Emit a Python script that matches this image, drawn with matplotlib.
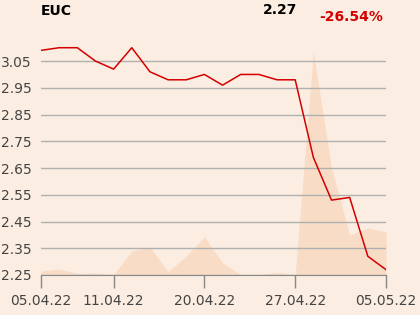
import matplotlib
matplotlib.use("Agg")
import matplotlib.pyplot as plt
import numpy as np

# trading days 05.04.22 .. 05.05.22
dates = ["05.04.22", "06.04.22", "07.04.22", "08.04.22", "11.04.22",
         "12.04.22", "13.04.22", "14.04.22", "19.04.22", "20.04.22",
         "21.04.22", "22.04.22", "25.04.22", "26.04.22", "27.04.22",
         "28.04.22", "29.04.22", "02.05.22", "04.05.22", "05.05.22"]
price = [3.09, 3.10, 3.10, 3.05, 3.02, 3.10, 3.01, 2.98, 2.98, 3.00,
         2.96, 3.00, 3.00, 2.98, 2.98, 2.69, 2.53, 2.54, 2.32, 2.27]
volume = [4, 6, 1.5, 2, 0.5, 24, 28, 3.5, 19, 38,
          12, 0.5, 0.5, 2.5, 0.5, 223, 107, 40, 47, 43]
tick_labels = ["05.04.22", "11.04.22", "20.04.22", "27.04.22", "05.05.22"]
yticks = [2.25, 2.35, 2.45, 2.55, 2.65, 2.75, 2.85, 2.95, 3.05]

bg = "#fbede1"
fig = plt.figure(figsize=(4.2, 3.15), dpi=100, facecolor=bg)
ax = fig.add_axes([0.0976, 0.127, 0.8214, 0.747])
ax.set_facecolor("none")
vax = ax.twinx()
vax.set_zorder(ax.get_zorder() - 1)
vax.set_facecolor(bg)
ax.patch.set_visible(False)

x = np.arange(len(price))
vax.fill_between(x, volume, 0, color="#f8dcc6", lw=0)
vax.set_ylim(0, 235.4)
vax.set_yticks([])
for s in vax.spines.values():
    s.set_visible(False)

ax.plot(x, price, color="#d40000", lw=1.1, zorder=3)
ax.set_xlim(0, len(price) - 1)
ax.set_ylim(2.25, 3.13)
ax.set_yticks(yticks)
ax.set_yticklabels([f"{v:.2f}" for v in yticks])
ax.grid(axis="y", color="#b0b0b0", lw=1)
ax.set_axisbelow(True)
ticks_at = [dates.index(d) for d in tick_labels]
ax.set_xticks(ticks_at)
ax.set_xticklabels(tick_labels)
ax.tick_params(axis="y", length=0, pad=7, labelsize=10, labelcolor="#444444")
ax.tick_params(axis="x", length=9.5, width=1, color="#888888", pad=4,
               labelsize=10, labelcolor="#444444")
for s in ["top", "right", "left"]:
    ax.spines[s].set_visible(False)
ax.spines["bottom"].set_color("#888888")

fig.text(41 / 420, 1 - 11 / 315, "EUC", fontsize=10, fontweight="bold",
         color="black", va="center", ha="left")
fig.text(297 / 420, 1 - 10 / 315, f"{price[-1]:.2f}", fontsize=10,
         fontweight="bold", color="black", va="center", ha="right")
chg = (price[-1] / price[0] - 1) * 100
fig.text(383 / 420, 1 - 17 / 315, f"{chg:.2f}%", fontsize=10,
         fontweight="bold", color="#d40000", va="center", ha="right")

fig.savefig("out.png", dpi=100, facecolor=bg)
